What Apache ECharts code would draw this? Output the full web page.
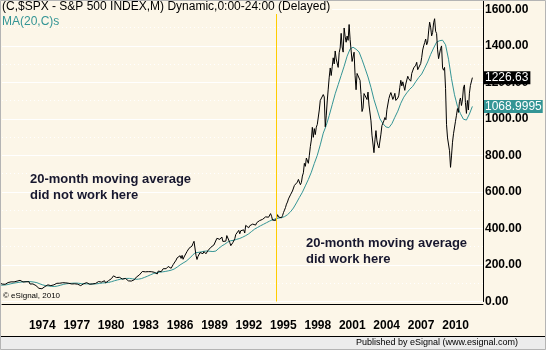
<!DOCTYPE html>
<html><head><meta charset="utf-8">
<script src="https://cdn.jsdelivr.net/npm/echarts@6/dist/echarts.min.js"></script>
<style>html,body{margin:0;padding:0;background:#fcf6e8;}#c{width:546px;height:350px;}</style>
</head><body><div id="c"></div>
<script>
// ---------- data ----------
const titleText = '(C,$SPX - S&P 500 INDEX,M) Dynamic,0:00-24:00 (Delayed)';
const maTitle = 'MA(20,C)s';
const yearTicks = [1974, 1977, 1980, 1983, 1986, 1989, 1992, 1995, 1998, 2001, 2004, 2007, 2010];
const priceTicks = [0, 200, 400, 600, 800, 1000, 1200, 1400, 1600];
// monthly closes, starting January of priceStartYear
const priceStartYear = 1971;
const closes = [
  95.9, 96.75, 100.3, 103.95, 99.6, 99.7, 95.6, 99.0, 98.3, 94.2, 93.99, 102.09,
  103.9, 106.6, 107.2, 107.7, 109.5, 107.1, 107.4, 111.1, 110.55, 111.6, 116.7, 118.05,
  116.0, 111.7, 111.5, 106.97, 104.95, 104.3, 108.2, 104.25, 108.4, 108.3, 95.96, 97.55,
  96.6, 96.2, 93.98, 90.3, 87.3, 86.0, 79.3, 72.15, 63.5, 73.9, 69.97, 68.56,
  76.98, 81.6, 83.4, 87.3, 91.15, 95.2, 88.75, 86.9, 83.9, 89.0, 91.2, 90.19,
  100.9, 99.7, 102.8, 101.6, 100.2, 104.3, 103.4, 102.9, 105.2, 102.9, 102.1, 107.46,
  102.0, 99.8, 98.4, 98.4, 96.1, 100.5, 98.9, 97.0, 96.5, 92.3, 94.8, 95.1,
  89.25, 87.0, 89.2, 97.0, 97.2, 95.5, 100.7, 103.3, 102.5, 93.15, 94.7, 96.1,
  99.9, 96.3, 101.6, 101.8, 99.1, 102.9, 103.8, 109.3, 109.3, 101.8, 106.2, 107.9,
  114.2, 113.7, 102.1, 106.3, 111.2, 114.2, 121.7, 122.4, 125.5, 127.5, 140.5, 135.8,
  129.6, 131.3, 136.0, 132.8, 132.6, 131.2, 130.9, 122.8, 116.2, 121.9, 126.4, 122.6,
  120.4, 113.1, 111.96, 116.4, 111.9, 109.6, 107.1, 119.5, 120.4, 133.7, 138.5, 140.6,
  145.3, 148.1, 152.96, 164.4, 162.4, 168.1, 162.6, 164.4, 166.1, 163.6, 166.4, 164.9,
  163.4, 157.1, 159.2, 160.05, 150.55, 153.2, 150.7, 166.7, 166.1, 166.1, 163.6, 167.2,
  179.6, 181.2, 180.7, 179.8, 189.6, 191.85, 190.9, 188.6, 182.1, 189.8, 202.2, 211.3,
  211.8, 226.9, 238.9, 235.5, 247.35, 250.8, 236.1, 252.9, 231.3, 243.98, 249.2, 242.2,
  274.1, 284.2, 291.7, 288.4, 290.1, 304.0, 318.7, 329.8, 321.8, 251.8, 230.3, 247.1,
  257.1, 267.8, 258.9, 261.3, 262.2, 273.5, 272.0, 261.5, 271.9, 278.97, 273.7, 277.7,
  297.5, 288.9, 294.9, 309.6, 320.5, 317.98, 346.1, 351.45, 349.15, 340.4, 345.99, 353.4,
  329.1, 331.9, 339.9, 330.8, 361.2, 358.0, 356.15, 322.6, 306.05, 304.0, 322.2, 330.2,
  343.9, 367.1, 375.2, 375.3, 389.8, 371.2, 387.8, 395.4, 387.9, 392.5, 375.2, 417.1,
  408.8, 412.7, 403.7, 414.95, 415.35, 408.1, 424.2, 414.0, 417.8, 418.7, 431.35, 435.7,
  438.8, 443.4, 451.7, 440.2, 450.2, 450.5, 448.1, 463.6, 458.9, 467.8, 461.8, 466.45,
  481.6, 467.1, 445.8, 450.9, 456.5, 444.3, 458.3, 475.5, 462.7, 472.35, 453.7, 459.3,
  470.4, 487.4, 500.7, 514.7, 533.4, 544.75, 562.1, 561.9, 584.4, 581.5, 605.4, 615.9,
  636.0, 640.4, 645.5, 654.2, 669.1, 670.6, 639.95, 651.99, 687.3, 705.3, 757.0, 740.7,
  786.2, 790.8, 757.1, 801.3, 848.3, 885.1, 954.3, 899.5, 947.3, 914.6, 955.4, 970.4,
  980.3, 1049.3, 1101.75, 1111.75, 1090.8, 1133.8, 1120.7, 957.3, 1017.0, 1098.7, 1163.6, 1229.2,
  1279.6, 1238.3, 1286.4, 1335.2, 1301.8, 1372.7, 1328.7, 1320.4, 1282.7, 1362.9, 1388.9, 1469.25,
  1394.5, 1366.4, 1498.6, 1452.4, 1420.6, 1454.6, 1430.8, 1517.7, 1436.5, 1429.4, 1315.2, 1320.3,
  1366.0, 1239.9, 1160.3, 1249.5, 1255.8, 1224.4, 1211.2, 1133.6, 1040.9, 1059.8, 1139.45, 1148.1,
  1130.2, 1106.7, 1147.4, 1076.9, 1067.1, 989.8, 911.6, 916.1, 815.3, 885.8, 936.3, 879.8,
  855.7, 841.2, 848.2, 916.9, 963.6, 974.5, 990.3, 1008.0, 995.97, 1050.7, 1058.2, 1111.9,
  1131.1, 1144.9, 1126.2, 1107.3, 1120.7, 1140.8, 1101.7, 1104.2, 1114.6, 1130.2, 1173.8, 1211.9,
  1181.3, 1203.6, 1180.6, 1156.9, 1191.5, 1191.3, 1234.2, 1220.3, 1228.8, 1207.0, 1249.5, 1248.3,
  1280.1, 1280.7, 1294.8, 1310.6, 1270.1, 1270.2, 1276.7, 1303.8, 1335.85, 1377.9, 1400.6, 1418.3,
  1438.2, 1406.8, 1420.9, 1482.4, 1530.6, 1503.35, 1455.3, 1473.99, 1526.75, 1549.4, 1481.1, 1468.4,
  1378.55, 1330.6, 1322.7, 1385.6, 1400.4, 1280.0, 1267.4, 1282.8, 1166.4, 968.75, 896.2, 903.25,
  825.9, 735.1, 797.9, 872.8, 919.1, 919.3, 987.5, 1020.6, 1057.1, 1036.2, 1095.6, 1115.1,
  1073.9, 1104.5, 1169.4, 1186.7, 1089.4, 1030.7, 1101.6, 1049.3, 1141.2, 1183.3, 1180.55, 1226.63
];
// 20-month moving average, read quarterly (first value June 1971)
const maStartYear = 1971, maStartMonth = 6, maStepMonths = 3;
const ma20 = [
  89.2, 90.1, 92.0,
  96.1, 99.8, 102.6, 105.1,
  107.1, 108.3, 109.4, 108.5,
  106.5, 103.0, 96.5, 90.6,
  86.8, 84.7, 82.9, 82.4,
  85.2, 89.8, 94.3, 97.3,
  98.9, 100.4, 101.0, 99.9,
  97.8, 96.7, 96.6, 95.8,
  96.0, 96.8, 99.1, 101.2,
  102.9, 104.5, 108.6, 113.8,
  118.1, 122.0, 124.4, 126.4,
  126.5, 124.3, 121.6, 122.4,
  125.4, 131.6, 138.1, 145.7,
  152.7, 157.4, 160.4, 162.1,
  164.5, 167.8, 171.4, 177.9,
  188.2, 200.5, 210.9, 220.3,
  234.7, 250.1, 267.2, 268.9,
  271.6, 275.2, 276.8, 275.2,
  273.7, 276.6, 291.6, 304.2,
  314.2, 326.0, 332.9, 335.5,
  340.8, 345.4, 352.6, 361.0,
  370.8, 384.0, 396.8, 406.0,
  415.3, 423.5, 432.1, 440.5,
  448.0, 452.3, 457.0, 459.5,
  464.8, 475.5, 491.2, 512.3,
  540.1, 570.1, 598.6, 633.6,
  668.7, 708.5, 756.4, 801.1,
  858.2, 922.4, 964.8, 1019.3,
  1078.4, 1138.1, 1187.9, 1238.9,
  1289.1, 1344.1, 1383.6, 1393.2,
  1382.3, 1367.4, 1325.0, 1278.3,
  1230.1, 1172.9, 1106.8, 1054.2,
  1000.7, 974.8, 956.5, 952.5,
  974.1, 1009.4, 1043.0, 1086.3,
  1119.5, 1143.0, 1163.2, 1178.8,
  1204.0, 1227.2, 1246.4, 1278.4,
  1312.4, 1353.7, 1388.7, 1420.9,
  1428.9, 1431.7, 1406.6, 1327.5,
  1220.6, 1132.7, 1068.8, 1029.0,
  998.9, 994.2, 1027.2, 1068.9995
];
const crossoverYear = 1994.5;
const note1 = ['20-month moving average', 'did not work here'];
const note2 = ['20-month moving average', 'did work here'];
const copyright = '\u00a9 eSignal, 2010';
const footer = 'Published by eSignal (www.esignal.com)';

// ---------- build ----------
const priceData = closes.map((v, i) => [priceStartYear + i / 12, v]);
const maData = ma20.map((v, i) => [maStartYear + (maStartMonth - 1 + i * maStepMonths) / 12, v]);
const lastPrice = closes[closes.length - 1];
const lastMA = ma20[ma20.length - 1];

const CREAM = '#fcf6e8', TEAL = '#349595', NAVY = '#17172e';
const FONT = '"Liberation Sans", Arial, sans-serif';

const chart = echarts.init(document.getElementById('c'), null, {renderer: 'canvas'});
chart.setOption({
  animation: false,
  backgroundColor: CREAM,
  title: [
    {text: titleText, left: 0, top: 0, padding: [1, 2, 1, 2], backgroundColor: CREAM,
     textStyle: {fontFamily: FONT, fontSize: 12, fontWeight: 'normal', color: '#000'}},
    {text: maTitle, left: 0, top: 16, padding: [0, 2],
     textStyle: {fontFamily: FONT, fontSize: 12, fontWeight: 'normal', color: TEAL}}
  ],
  grid: {left: 2, right: 63, top: 0, bottom: 48.5, containLabel: false},
  xAxis: [
    {type: 'value', min: 1971.488, max: 2011.806, position: 'top', show: false,
     splitLine: {show: false}},
    {type: 'value', min: 1970.49, max: 2012.39, position: 'bottom', offset: 2.5,
     axisLine: {show: true, onZero: false, lineStyle: {color: '#000', width: 1}},
     axisTick: {show: false},
     splitLine: {show: false},
     axisLabel: {customValues: yearTicks, margin: 16, color: '#000',
                 fontFamily: FONT, fontSize: 12, fontWeight: 'bold',
                 formatter: v => String(v)}}
  ],
  yAxis: {
    type: 'value', min: 0, max: 1652, interval: 200, position: 'right',
    axisLine: {show: true, onZero: false, lineStyle: {color: '#000', width: 1}},
    axisTick: {show: false},
    axisLabel: {customValues: priceTicks, margin: 2, color: '#000', align: 'left',
                fontFamily: FONT, fontSize: 12, fontWeight: 'bold',
                formatter: v => v.toFixed(2)},
    splitLine: {show: true, lineStyle: {color: '#ffffff', width: 1}},
    minorTick: {show: false, splitNumber: 2},
    minorSplitLine: {show: true, lineStyle: {color: '#ffffff', width: 1, type: [1, 3]}}
  },
  series: [
    {
      type: 'line', name: 'MA', xAxisIndex: 0, yAxisIndex: 0, data: maData,
      showSymbol: false, symbol: 'none', z: 3,
      lineStyle: {color: TEAL, width: 1},
      markLine: {
        silent: true, symbol: 'none', animation: false,
        lineStyle: {color: 'rgba(0,0,0,0)', width: 1, type: 'solid'},
        label: {show: true, position: 'end', distance: 1, formatter: () => String(lastMA),
                color: '#fff', backgroundColor: TEAL, padding: [1, 1, 0, 1],
                fontFamily: FONT, fontSize: 12},
        data: [{yAxis: lastMA}]
      }
    },
    {
      type: 'line', name: 'SPX', xAxisIndex: 0, yAxisIndex: 0, data: priceData,
      showSymbol: false, symbol: 'none', z: 4,
      lineStyle: {color: '#000', width: 1},
      markLine: {
        silent: true, symbol: 'none', animation: false,
        lineStyle: {color: 'rgba(0,0,0,0)', width: 1, type: 'solid'},
        label: {show: true, position: 'end', distance: 1, formatter: () => String(lastPrice),
                color: '#fff', backgroundColor: '#000', padding: [1, 2, 0, 1],
                fontFamily: FONT, fontSize: 12},
        data: [
          {xAxis: crossoverYear, lineStyle: {color: '#ffcc00', width: 1, type: 'solid'},
           label: {show: false}},
          {yAxis: lastPrice}
        ]
      }
    }
  ],
  graphic: [
    {type: 'text', left: 30, top: 171, z: 10,
     style: {text: note1.join('\n'), font: 'bold 13px ' + FONT, fill: NAVY, lineHeight: 16}},
    {type: 'text', left: 306, top: 235, z: 10,
     style: {text: note2.join('\n'), font: 'bold 13px ' + FONT, fill: NAVY, lineHeight: 16}},
    {type: 'text', left: 3, top: 292, z: 10,
     style: {text: copyright, font: '8px ' + FONT, fill: '#000'}},
    {type: 'rect', shape: {x: 0, y: 337, width: 546, height: 13}, style: {fill: '#ececec'}, z: 5},
    {type: 'line', shape: {x1: 0, y1: 336.5, x2: 546, y2: 336.5}, style: {stroke: '#000', lineWidth: 1}, z: 6},
    {type: 'text', right: 28, top: 338, z: 7,
     style: {text: footer, font: '9px ' + FONT, fill: '#000'}},
    {type: 'rect', shape: {x: 0.5, y: 0.5, width: 545, height: 349}, style: {fill: null, stroke: '#b4b4b4', lineWidth: 1}, z: 20}
  ]
});
</script></body></html>
